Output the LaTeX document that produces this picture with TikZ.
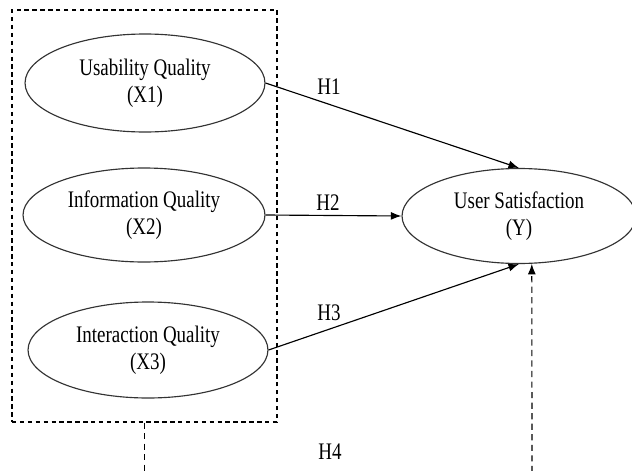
\documentclass[tikz,border=0pt]{standalone}
\usepackage{fontspec}
\setmainfont[FakeStretch=0.8]{Liberation Serif}
\usetikzlibrary{positioning,shapes,arrows.meta}

\begin{document}
\begin{tikzpicture}[x=0.02cm, y=-0.02cm,
	var/.style={ellipse, draw=black!80, line width=0.65pt, inner sep=0pt, align=center, font=\fontsize{13.5}{15.5}\selectfont},
	hyp/.style={-{Latex[length=6pt,width=4.5pt]}, line width=0.65pt},
	grp/.style={dash pattern=on 2.5pt off 2pt, line width=0.65pt},
	link/.style={dash pattern=on 3.5pt off 2.5pt, line width=0.65pt},
	lbl/.style={font=\fontsize{13.5}{15.5}\selectfont}]
	\useasboundingbox (0,0) rectangle (632,470);
	\clip (0,0) rectangle (632,470);
	% exogenous block
	\node[grp, draw, minimum width=5.3cm, minimum height=8.24cm] (G) at (144.5,216) {};
	\node[var, minimum width=4.8cm, minimum height=1.96cm] (X1) at (145,83) {Usability Quality\\(X1)};
	\node[var, minimum width=4.84cm, minimum height=1.88cm] (X2) at (144,215) {Information Quality\\(X2)};
	\node[var, minimum width=4.8cm, minimum height=1.92cm] (X3) at (148,350) {Interaction Quality\\(X3)};
	\node[var, minimum width=4.68cm, minimum height=1.9cm] (Y) at (519,216) {User Satisfaction\\(Y)};
	% hypotheses
	\draw[hyp] (X1.east) -- (Y.north);
	\draw[hyp] (X2.east) -- (Y.west);
	\draw[hyp] (X3.east) -- (Y.south);
	\node[lbl] (H1) at (329,87) {H1};
	\node[lbl] (H2) at (328,203) {H2};
	\node[lbl] (H3) at (329,313) {H3};
	\node[lbl] (H4) at (330,452) {H4};
	% simultaneous path
	\coordinate (b1) at (G.south |- 0,472);
	\coordinate (b2) at (532,472);
	\draw[link] (G.south) -- (b1);
	\draw[link, -{Latex[length=6pt,width=4.5pt]}] (b2) -- (Y.-75);
\end{tikzpicture}
\end{document}
